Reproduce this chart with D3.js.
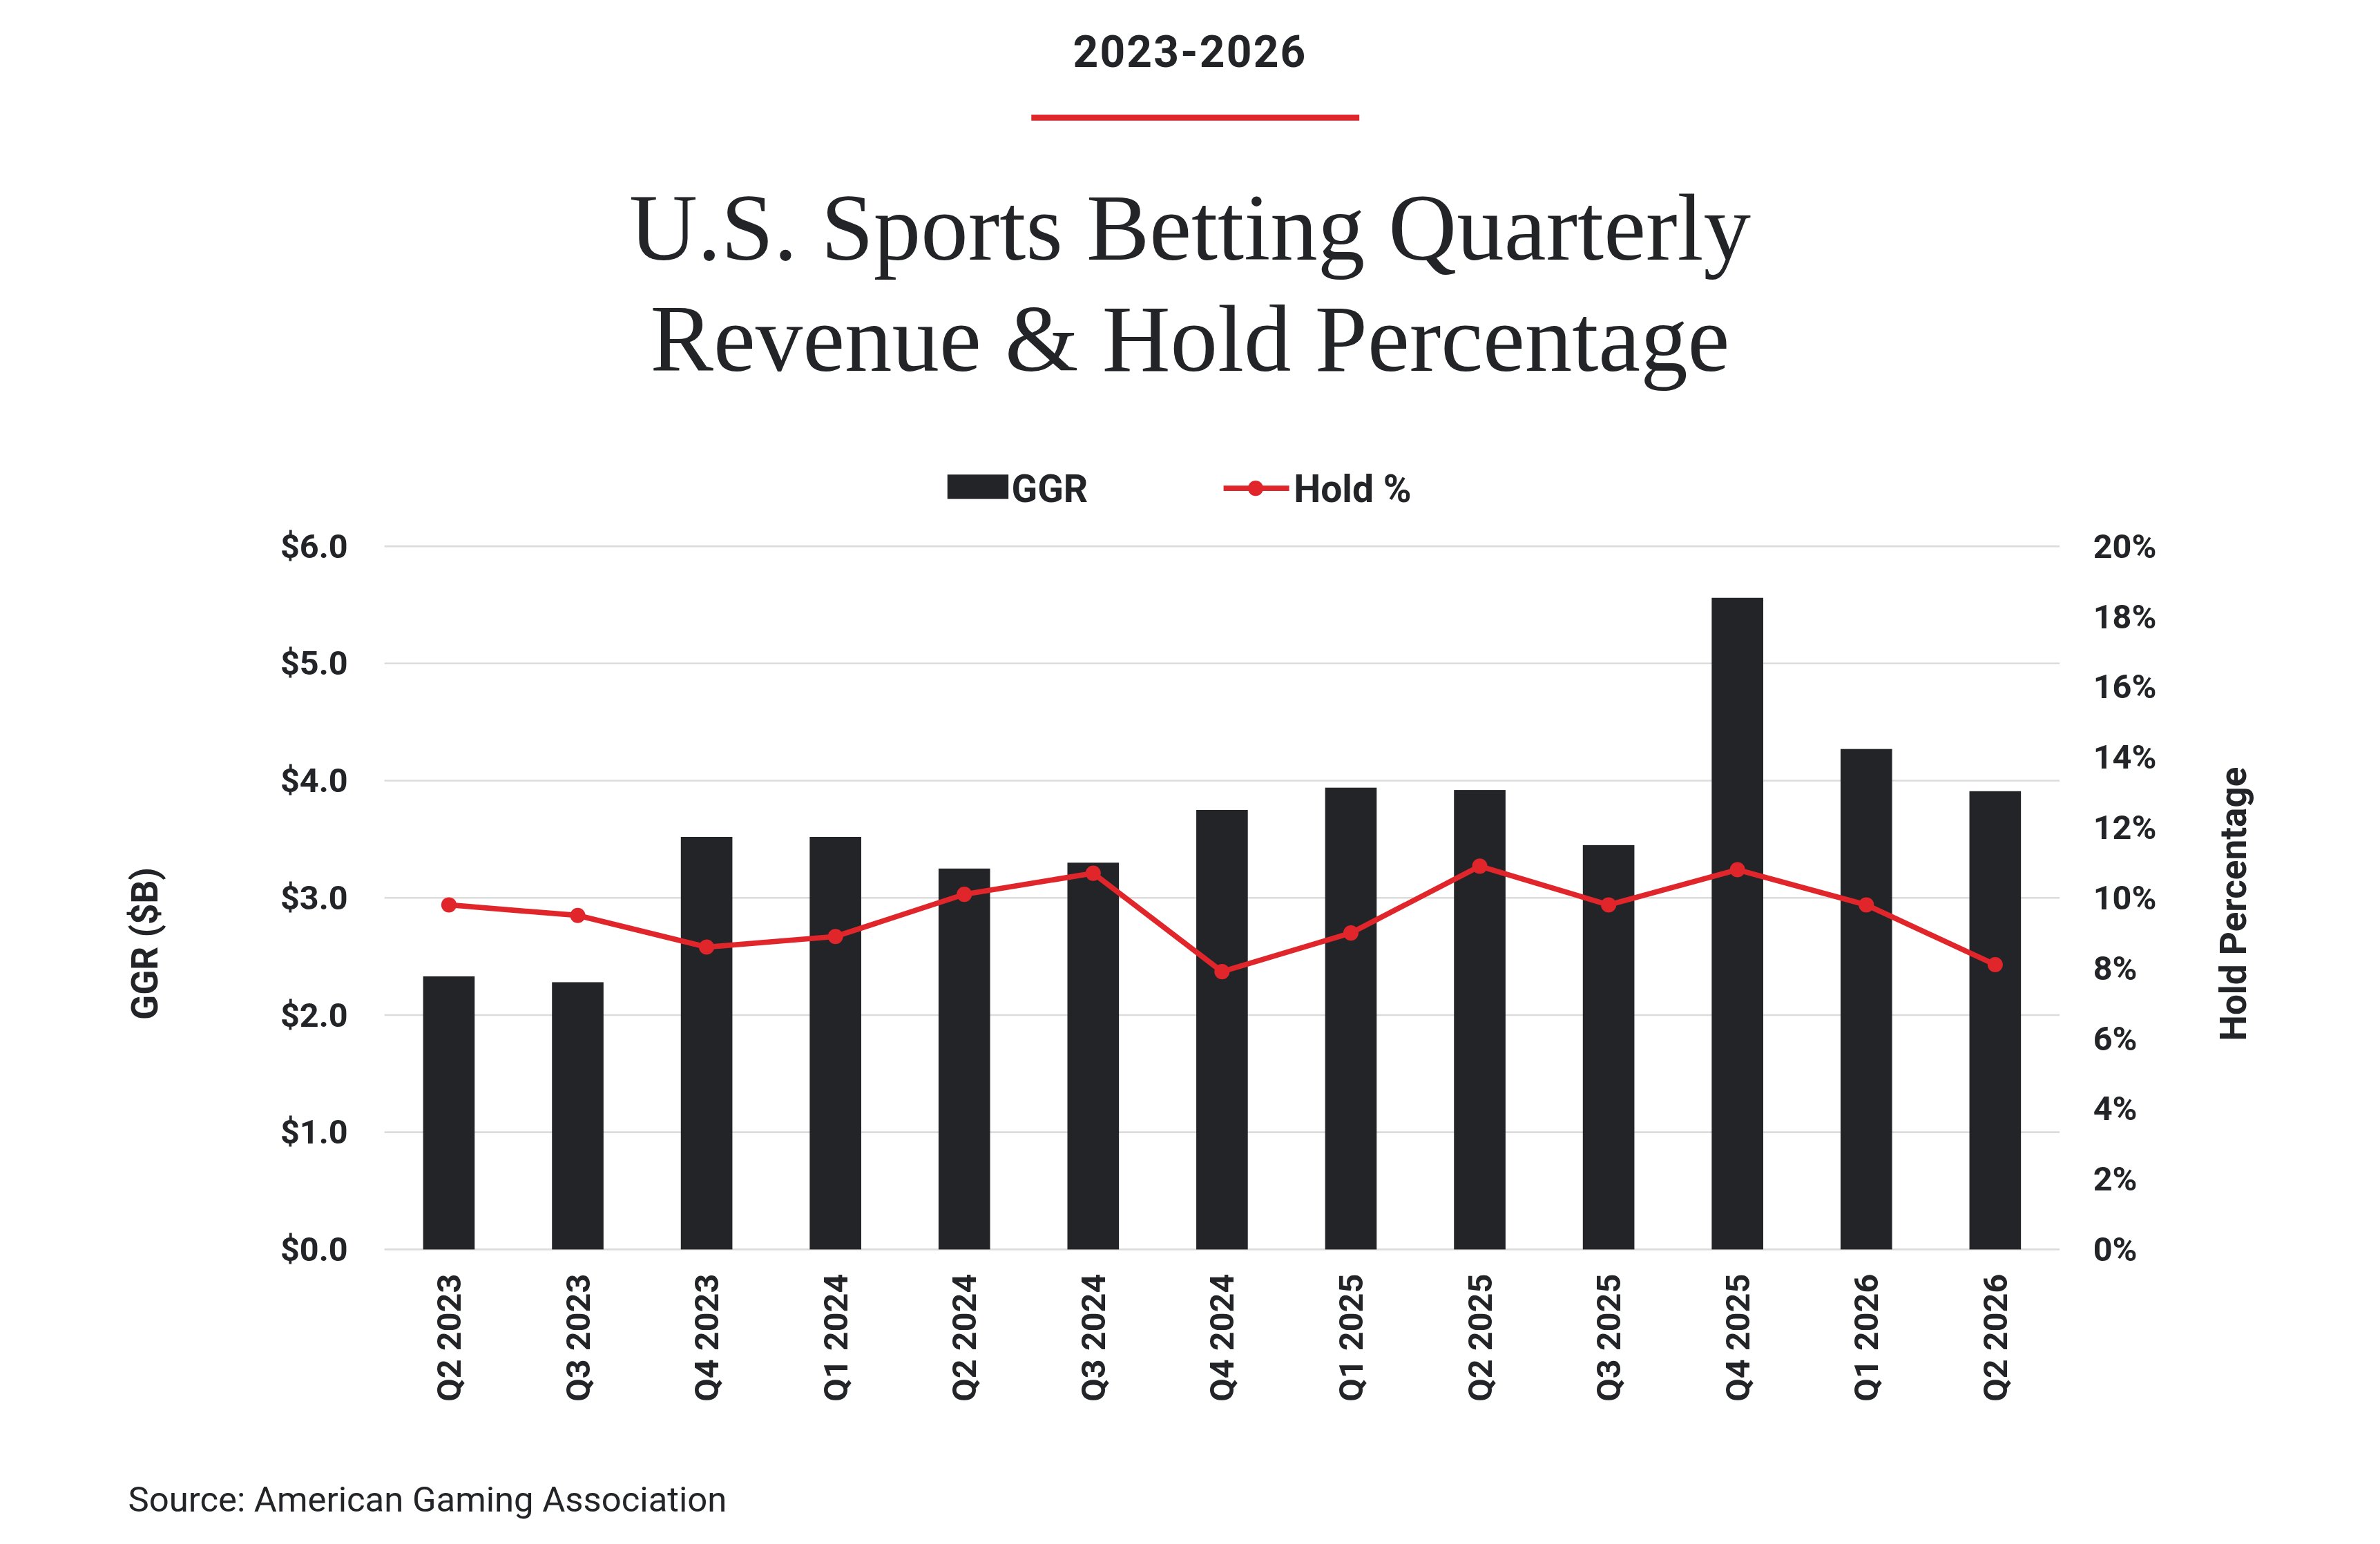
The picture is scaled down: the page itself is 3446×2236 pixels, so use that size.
<!DOCTYPE html>
<html><head><meta charset="utf-8">
<script src="https://cdn.jsdelivr.net/npm/d3@7"></script>
<style>body{margin:0;background:#fff}svg{display:block}</style>
</head><body><div id="chart"></div>
<script>
const quarters = ["Q2 2023","Q3 2023","Q4 2023","Q1 2024","Q2 2024","Q3 2024","Q4 2024","Q1 2025","Q2 2025","Q3 2025","Q4 2025","Q1 2026","Q2 2026"];
const ggr = [2.33, 2.28, 3.52, 3.52, 3.25, 3.30, 3.75, 3.94, 3.92, 3.45, 5.56, 4.27, 3.91];
const hold = [9.8, 9.5, 8.6, 8.9, 10.1, 10.7, 7.9, 9.0, 10.9, 9.8, 10.8, 9.8, 8.1];
const leftTicks = [0, 1, 2, 3, 4, 5, 6];
const rightTicks = [0, 2, 4, 6, 8, 10, 12, 14, 16, 18, 20];

const W = 1560, H = 1012;
const dark = "#222428", red = "#e0262b";
const font = "Roboto, 'Liberation Sans', sans-serif";

const svg = d3.select("#chart").append("svg")
    .attr("width", 3446).attr("height", 2236)
    .attr("viewBox", "0 0 " + W + " " + H)
    .style("font-family", font);

const margins = { left: 252, right: 1350, top: 358, bottom: 819 };

const x = d3.scaleBand().domain(quarters)
    .range([margins.left, margins.right]).paddingInner(0.6).paddingOuter(0.3);
const yL = d3.scaleLinear().domain([0, 6]).range([margins.bottom, margins.top]);
const yR = d3.scaleLinear().domain([0, 20]).range([margins.bottom, margins.top]);

// header
svg.append("text").attr("x", W / 2).attr("y", 44).attr("text-anchor", "middle")
    .style("font-size", "29px").style("font-weight", "bold").style("letter-spacing", "1px")
    .attr("fill", dark).text("2023-2026");
svg.append("line").attr("x1", 676).attr("x2", 891).attr("y1", 77).attr("y2", 77)
    .attr("stroke", red).attr("stroke-width", 4);
svg.append("text").attr("x", W / 2).attr("y", 170).attr("text-anchor", "middle")
    .style("font-family", "'Liberation Serif', 'DejaVu Serif', serif").style("font-size", "62px")
    .attr("fill", dark).text("U.S. Sports Betting Quarterly");
svg.append("text").attr("x", W / 2).attr("y", 243).attr("text-anchor", "middle")
    .style("font-family", "'Liberation Serif', 'DejaVu Serif', serif").style("font-size", "62px")
    .attr("fill", dark).text("Revenue & Hold Percentage");

// grid
svg.selectAll("line.grid").data(leftTicks).enter().append("line")
    .attr("class", "grid")
    .attr("x1", margins.left).attr("x2", margins.right)
    .attr("y1", d => yL(d)).attr("y2", d => yL(d))
    .attr("stroke", "#dcdcdc").attr("stroke-width", 1.2);

// bars
svg.selectAll("rect.bar").data(ggr).enter().append("rect")
    .attr("class", "bar")
    .attr("x", (d, i) => x(quarters[i]))
    .attr("width", x.bandwidth())
    .attr("y", d => yL(d))
    .attr("height", d => yL(0) - yL(d))
    .attr("fill", dark);

// line
const line = d3.line().x((d, i) => x(quarters[i]) + x.bandwidth() / 2).y(d => yR(d));
svg.append("path").datum(hold).attr("d", line)
    .attr("fill", "none").attr("stroke", red).attr("stroke-width", 3.5);
svg.selectAll("circle.dot").data(hold).enter().append("circle")
    .attr("cx", (d, i) => x(quarters[i]) + x.bandwidth() / 2)
    .attr("cy", d => yR(d)).attr("r", 5).attr("fill", red);

// axes
const axL = svg.append("g").attr("transform", "translate(" + margins.left + ",0)")
    .call(d3.axisLeft(yL).tickValues(leftTicks).tickSize(0).tickPadding(24).tickFormat(d => "$" + d.toFixed(1)));
const axR = svg.append("g").attr("transform", "translate(" + margins.right + ",0)")
    .call(d3.axisRight(yR).tickValues(rightTicks).tickSize(0).tickPadding(22).tickFormat(d => d + "%"));
const axB = svg.append("g").attr("transform", "translate(0," + margins.bottom + ")")
    .call(d3.axisBottom(x).tickSize(0));
[axL, axR, axB].forEach(a => {
    a.select(".domain").remove();
    a.selectAll("text").style("font-family", font).style("font-size", "22px")
        .style("font-weight", "bold").attr("fill", dark);
});
axB.selectAll("text").attr("transform", "rotate(-90)")
    .attr("text-anchor", "end").attr("x", -16).attr("y", 0).attr("dy", "0.35em");

// axis titles
svg.append("text").attr("transform", "translate(103," + ((margins.top + margins.bottom) / 2 + 30) + ") rotate(-90)")
    .attr("text-anchor", "middle").style("font-size", "24px").style("font-weight", "bold")
    .attr("fill", dark).text("GGR ($B)");
svg.append("text").attr("transform", "translate(1472," + ((margins.top + margins.bottom) / 2 + 4) + ") rotate(-90)")
    .attr("text-anchor", "middle").style("font-size", "24px").style("font-weight", "bold")
    .attr("fill", dark).text("Hold Percentage");

// legend
svg.append("rect").attr("x", 621).attr("y", 311).attr("width", 40).attr("height", 16).attr("fill", dark);
svg.append("text").attr("x", 663).attr("y", 329).style("font-size", "25px").style("font-weight", "bold")
    .attr("fill", dark).text("GGR");
svg.append("line").attr("x1", 802).attr("x2", 845).attr("y1", 320).attr("y2", 320)
    .attr("stroke", red).attr("stroke-width", 3.5);
svg.append("circle").attr("cx", 823).attr("cy", 320).attr("r", 5).attr("fill", red);
svg.append("text").attr("x", 848).attr("y", 329).style("font-size", "25px").style("font-weight", "bold")
    .attr("fill", dark).text("Hold %");

// source
svg.append("text").attr("x", 84).attr("y", 991).style("font-size", "23px")
    .attr("fill", dark).text("Source: American Gaming Association");
</script></body></html>
